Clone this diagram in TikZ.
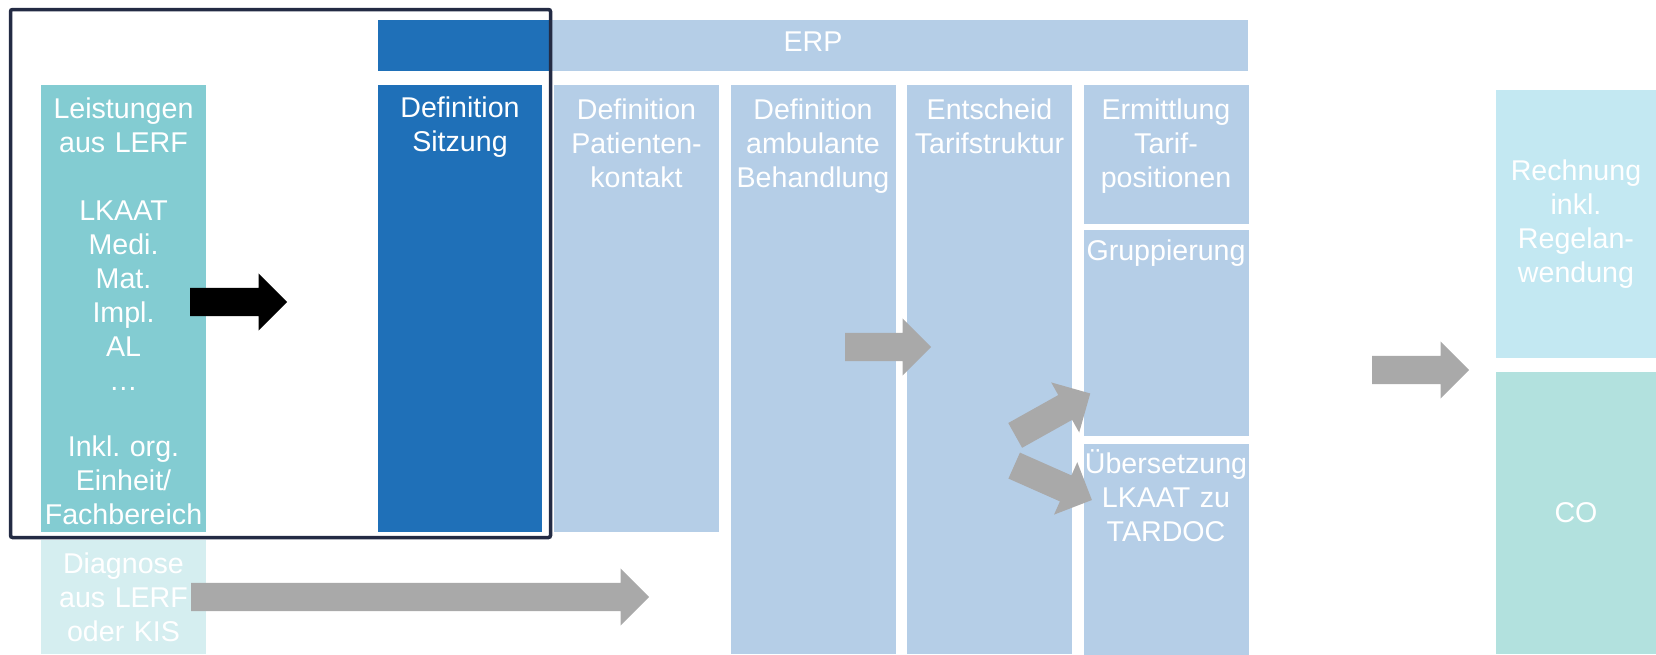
\documentclass[tikz,border=0pt]{standalone}
\usepackage{fontspec}
\setmainfont{Liberation Sans}
\frenchspacing
\usetikzlibrary{positioning, shapes.arrows}
\definecolor{myteal}{RGB}{131,204,210}
\definecolor{mypale}{RGB}{213,238,240}
\definecolor{myblue}{RGB}{31,112,184}
\definecolor{mylight}{RGB}{181,206,231}
\definecolor{mysky}{RGB}{195,232,242}
\definecolor{mymint}{RGB}{178,225,222}
\definecolor{mygray}{RGB}{169,169,169}
\definecolor{mydark}{RGB}{35,43,68}
\tikzset{
  box/.style={rectangle, anchor=north west, inner sep=0pt, outer sep=0pt,
    minimum width=165pt},
  boxtext/.style={text=white, font=\fontsize{28.6}{34}\selectfont,
    align=center, text width=190pt, inner sep=0pt},
  toptext/.style={boxtext, execute at begin node=\strut},
  blockarrow/.style={single arrow, fill=mygray, anchor=tail, inner xsep=0pt,
    inner ysep=14pt, single arrow head extend=14.5pt, single arrow tip angle=90},
  framebox/.style={draw=mydark, line width=3.5pt, rounded corners=2pt}
}

\begin{document}
\begin{tikzpicture}[x=1pt, y=-1pt]
  \useasboundingbox (0,0) rectangle (1656,654);

  % Inputs
  \node[box, fill=myteal, minimum height=447pt] (lerf) at (41,85) {};
  \node[box, fill=mypale, minimum height=114pt, below=8pt of lerf.south west, anchor=north west] (diag) {};

  % ERP bar
  \node[box, fill=mylight, minimum width=870pt, minimum height=51pt] (erp) at (378,20) {};
  \node[box, fill=myblue, minimum width=171pt, minimum height=51pt] (erpsitz) at (378,20) {};

  % ERP steps
  \node[box, fill=myblue, minimum width=164pt, minimum height=447pt] (sitz) at (378,85) {};
  \node[box, fill=mylight, minimum height=447pt, right=12pt of sitz.north east, anchor=north west] (pat) {};
  \node[box, fill=mylight, minimum height=569pt, right=11.5pt of pat.north east, anchor=north west] (amb) {};
  \node[box, fill=mylight, minimum height=569pt, right=11.5pt of amb.north east, anchor=north west] (ents) {};
  \node[box, fill=mylight, minimum height=139pt, right=11.5pt of ents.north east, anchor=north west] (ermi) {};
  \node[box, fill=mylight, minimum height=206pt, below=6pt of ermi.south west, anchor=north west] (grup) {};
  \node[box, fill=mylight, minimum height=211pt, below=7.5pt of grup.south west, anchor=north west] (uebs) {};

  % Outputs
  \node[box, fill=mysky, minimum width=160pt, minimum height=268pt] (rech) at (1496,90) {};
  \node[box, fill=mymint, minimum width=160pt, minimum height=282pt, below=14pt of rech.south west, anchor=north west] (co) {};

  % Scope frame
  \draw[framebox] (10.5,9.5) rectangle (550.5,537.5);

  % Texts
  \node[boxtext, yshift=4pt] (erp-t) at (erp.center) {ERP};
  \node[toptext, below=9pt of lerf.north] (lerf-t) {Leistungen\\aus LERF\\[34pt]LKAAT\\Medi.\\Mat.\\Impl.\\AL\\…\\[32pt]Inkl. org.\\Einheit/\\Fachbereich};
  \node[boxtext] (diag-t) at (diag.center) {Diagnose\\aus LERF\\oder KIS};
  \node[toptext, below=8pt of sitz.north] (sitz-t) {Definition\\Sitzung};
  \node[toptext, below=10pt of pat.north] (pat-t) {Definition\\Patienten-\\kontakt};
  \node[toptext, below=10pt of amb.north] (amb-t) {Definition\\ambulante\\Behandlung};
  \node[toptext, below=10pt of ents.north] (ents-t) {Entscheid\\Tarifstruktur};
  \node[toptext, below=10pt of ermi.north] (ermi-t) {Ermittlung\\Tarif-\\positionen};
  \node[toptext, below=6pt of grup.north] (grup-t) {Gruppierung};
  \node[toptext, below=6pt of uebs.north] (uebs-t) {Übersetzung\\LKAAT zu\\TARDOC};
  \node[boxtext] (rech-t) at (rech.center) {Rechnung\\inkl.\\Regelan-\\wendung};
  \node[boxtext] (co-t) at (co.center) {CO};

  % Arrows
  \node[blockarrow, fill=black, minimum height=97pt] (toSitz) at (190,302) {};
  \node[blockarrow, minimum height=458pt] (diagFlow) at (191,597) {};
  \node[blockarrow, minimum height=86pt] (toEnts) at (845,347) {};
  \node[blockarrow, minimum height=86pt, rotate=29.2] (toGrup) at (1015,435.5) {};
  \node[blockarrow, minimum height=85pt, rotate=-23.9] (toUebs) at (1014,465.5) {};
  \node[blockarrow, minimum height=97pt] (toRech) at (1372,370) {};
\end{tikzpicture}
\end{document}
